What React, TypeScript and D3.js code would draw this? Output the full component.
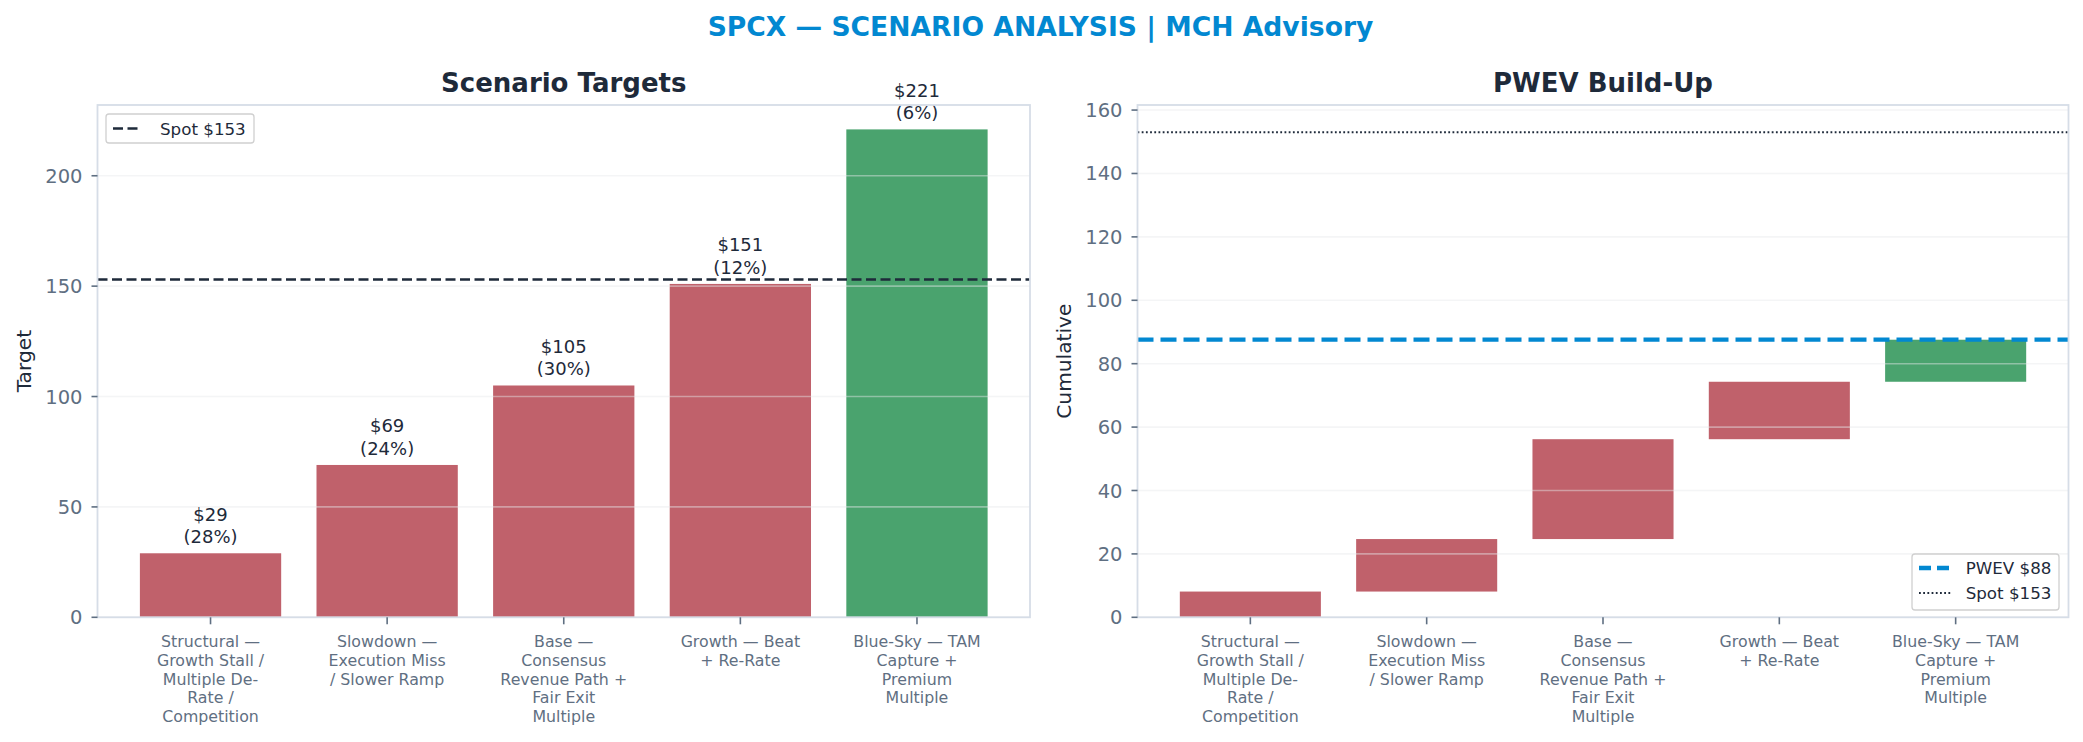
import * as d3 from "d3";

// scenario data
const scenarioNames = [
  "Structural — Growth Stall / Multiple De-Rate / Competition",
  "Slowdown — Execution Miss / Slower Ramp",
  "Base — Consensus Revenue Path + Fair Exit Multiple",
  "Growth — Beat + Re-Rate",
  "Blue-Sky — TAM Capture + Premium Multiple",
];
const tickLabelLines = [
  ["Structural —", "Growth Stall /", "Multiple De-", "Rate /", "Competition"],
  ["Slowdown —", "Execution Miss", "/ Slower Ramp"],
  ["Base —", "Consensus", "Revenue Path +", "Fair Exit", "Multiple"],
  ["Growth — Beat", "+ Re-Rate"],
  ["Blue-Sky — TAM", "Capture +", "Premium", "Multiple"],
];
const targets = [29, 69, 105, 151, 221];
const probabilities = [28, 24, 30, 12, 6];
const spotPrice = 153;
const leftTicks = [0, 50, 100, 150, 200];
const rightTicks = [0, 20, 40, 60, 80, 100, 120, 140, 160];

const W = 2083;
const H = 742;
const FONT = "DejaVu Sans, Verdana, sans-serif";
const DARK = "#1e2a3a";
const SLATE = "#5f6f82";
const BLUE = "#0288d1";
const RED = "#c0616b";
const GREEN = "#4aa36e";
const SPINE = "#d6dde7";
const GRID = "#e6e8ec";

const top = 105;
const bottom = 617.3;
const leftPanel = { x0: 97.5, x1: 1030 };
const rightPanel = { x0: 1137.5, x1: 2068.5 };

// cumulative probability-weighted build-up
const contributions = targets.map((t, i) => (t * probabilities[i]) / 100);
const cumEnd = contributions.map((_, i) => d3.sum(contributions.slice(0, i + 1)));
const cumStart = cumEnd.map((c, i) => c - contributions[i]);
const pwev = d3.sum(contributions);

function XAxis({ x }: { x: d3.ScaleLinear<number, number> }) {
  return (
    <g>
      {tickLabelLines.map((lines, i) => (
        <g key={i}>
          <line x1={x(i)} x2={x(i)} y1={bottom} y2={bottom + 7} stroke={SLATE} strokeWidth={1.6} />
          <text x={x(i)} y={bottom + 30} textAnchor="middle" fontSize={15.8} fill={SLATE} fontFamily={FONT}>
            {lines.map((l, j) => (
              <tspan key={j} x={x(i)} dy={j === 0 ? 0 : 18.7}>
                {l}
              </tspan>
            ))}
          </text>
        </g>
      ))}
    </g>
  );
}

function YAxis({ y, ticks, x0, label }: { y: d3.ScaleLinear<number, number>; ticks: number[]; x0: number; label: string }) {
  return (
    <g>
      {ticks.map((t) => (
        <g key={t}>
          <line x1={x0 - 6} x2={x0} y1={y(t)} y2={y(t)} stroke={SLATE} strokeWidth={1.6} />
          <text x={x0 - 15} y={y(t)} dy="0.36em" textAnchor="end" fontSize={19.5} fill={SLATE} fontFamily={FONT}>
            {t}
          </text>
        </g>
      ))}
      <text
        transform={`translate(${x0 - 74},${(top + bottom) / 2}) rotate(-90)`}
        textAnchor="middle"
        dy="0.36em"
        fontSize={20.2}
        fill={DARK}
        fontFamily={FONT}
      >
        {label}
      </text>
    </g>
  );
}

function Grid({ y, ticks, x0, x1 }: { y: d3.ScaleLinear<number, number>; ticks: number[]; x0: number; x1: number }) {
  return (
    <g>
      {ticks.map((t) => (
        <line key={t} x1={x0} x2={x1} y1={y(t)} y2={y(t)} stroke={GRID} strokeOpacity={0.45} strokeWidth={1.6} />
      ))}
    </g>
  );
}

function Frame({ x0, x1 }: { x0: number; x1: number }) {
  return <rect x={x0} y={top} width={x1 - x0} height={bottom - top} fill="none" stroke={SPINE} strokeWidth={1.8} />;
}

export default function App() {
  const n = targets.length;
  const xL = d3.scaleLinear().domain([-0.64, n - 1 + 0.64]).range([leftPanel.x0, leftPanel.x1]);
  const xR = d3.scaleLinear().domain([-0.64, n - 1 + 0.64]).range([rightPanel.x0, rightPanel.x1]);
  const yL = d3.scaleLinear().domain([0, d3.max(targets)! * 1.05]).range([bottom, top]);
  const yR = d3.scaleLinear().domain([0, 161.6]).range([bottom, top]);
  const bw = 0.8;
  const colorOf = (t: number) => (t > spotPrice ? GREEN : RED);

  return (
    <svg width={W} height={H} style={{ position: "absolute", left: 0, top: 0, background: "#fff" }}>
      <text x={W / 2 - 1} y={36} textAnchor="middle" fontSize={26.6} fontWeight="bold" fill={BLUE} fontFamily={FONT}>
        SPCX — SCENARIO ANALYSIS | MCH Advisory
      </text>

      {/* Left: scenario targets */}
      <text x={(leftPanel.x0 + leftPanel.x1) / 2} y={92} textAnchor="middle" fontSize={26} fontWeight="bold" fill={DARK} fontFamily={FONT}>
        Scenario Targets
      </text>
      {targets.map((t, i) => (
        <rect key={i} x={xL(i - bw / 2)} width={xL(bw) - xL(0)} y={yL(t)} height={yL(0) - yL(t)} fill={colorOf(t)} />
      ))}
      <Grid y={yL} ticks={leftTicks} x0={leftPanel.x0} x1={leftPanel.x1} />
      {targets.map((t, i) => (
        <text key={i} x={xL(i)} y={yL(t) - 32.6} textAnchor="middle" fontSize={18} fill={DARK} fontFamily={FONT}>
          <tspan x={xL(i)}>${t}</tspan>
          <tspan x={xL(i)} dy={22.6}>({probabilities[i]}%)</tspan>
        </text>
      ))}
      <line x1={leftPanel.x0} x2={leftPanel.x1} y1={yL(spotPrice)} y2={yL(spotPrice)} stroke={DARK} strokeWidth={2.7} strokeDasharray="10,4.5" />
      <Frame x0={leftPanel.x0} x1={leftPanel.x1} />
      <YAxis y={yL} ticks={leftTicks} x0={leftPanel.x0} label="Target" />
      <XAxis x={xL} />
      <g>
        <rect x={106} y={114} width={148} height={29} rx={3} fill="#fff" fillOpacity={0.85} stroke="#d0d0d0" strokeWidth={1.3} />
        <line x1={113} x2={142} y1={128.5} y2={128.5} stroke={DARK} strokeWidth={2.7} strokeDasharray="10,4.5" />
        <text x={160} y={128.5} dy="0.36em" fontSize={16.7} fill={DARK} fontFamily={FONT}>
          Spot ${spotPrice}
        </text>
      </g>

      {/* Right: PWEV build-up */}
      <text x={(rightPanel.x0 + rightPanel.x1) / 2} y={92} textAnchor="middle" fontSize={26} fontWeight="bold" fill={DARK} fontFamily={FONT}>
        PWEV Build-Up
      </text>
      {targets.map((t, i) => (
        <rect key={i} x={xR(i - bw / 2)} width={xR(bw) - xR(0)} y={yR(cumEnd[i])} height={yR(cumStart[i]) - yR(cumEnd[i])} fill={colorOf(t)} />
      ))}
      <Grid y={yR} ticks={rightTicks} x0={rightPanel.x0} x1={rightPanel.x1} />
      <line x1={rightPanel.x0} x2={rightPanel.x1} y1={yR(pwev)} y2={yR(pwev)} stroke={BLUE} strokeWidth={4.3} strokeDasharray="16,7" />
      <line x1={rightPanel.x0} x2={rightPanel.x1} y1={yR(spotPrice)} y2={yR(spotPrice)} stroke={DARK} strokeWidth={1.8} strokeDasharray="1.8,2.4" />
      <Frame x0={rightPanel.x0} x1={rightPanel.x1} />
      <YAxis y={yR} ticks={rightTicks} x0={rightPanel.x0} label="Cumulative" />
      <XAxis x={xR} />
      <g>
        <rect x={1912} y={554} width={147} height={56} rx={3} fill="#fff" fillOpacity={0.85} stroke="#d0d0d0" strokeWidth={1.3} />
        <line x1={1919} x2={1952} y1={568} y2={568} stroke={BLUE} strokeWidth={4.3} strokeDasharray="12,6" />
        <text x={1965.7} y={568} dy="0.36em" fontSize={16.7} fill={DARK} fontFamily={FONT}>
          PWEV ${Math.round(pwev)}
        </text>
        <line x1={1919} x2={1952} y1={593} y2={593} stroke={DARK} strokeWidth={1.8} strokeDasharray="1.8,2.4" />
        <text x={1965.7} y={593} dy="0.36em" fontSize={16.7} fill={DARK} fontFamily={FONT}>
          Spot ${spotPrice}
        </text>
      </g>
    </svg>
  );
}
